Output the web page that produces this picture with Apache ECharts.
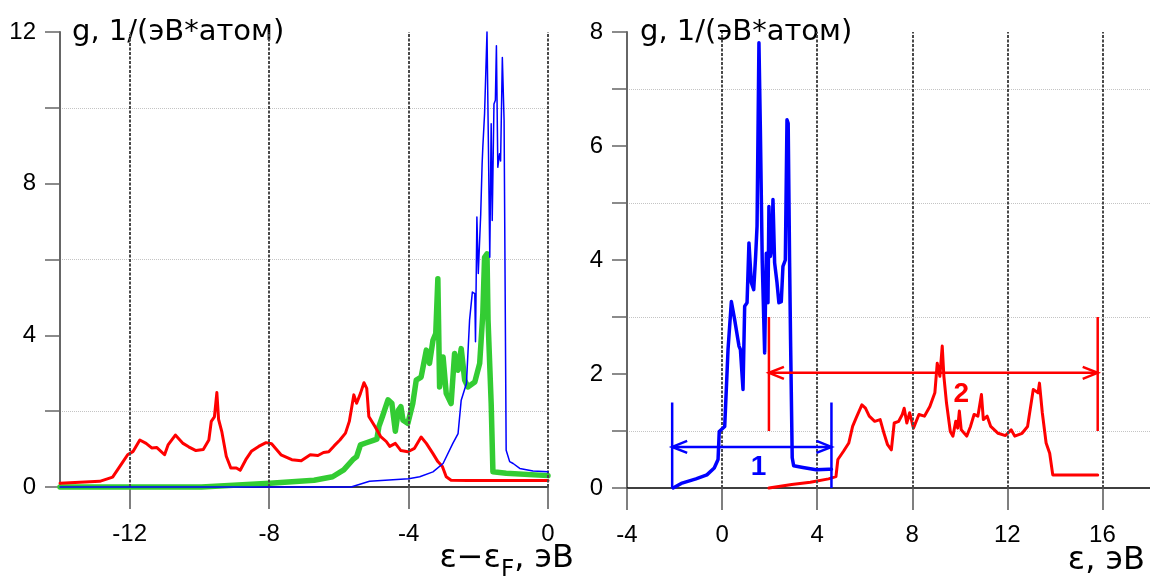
<!DOCTYPE html>
<html>
<head>
<meta charset="utf-8">
<title>Плотность состояний</title>
<script src="https://cdn.jsdelivr.net/npm/echarts@6/dist/echarts.min.js"></script>
<style>
  html, body { margin: 0; padding: 0; background: #fff; }
  #chart { width: 1150px; height: 577px; }
</style>
</head>
<body>
<div id="chart"></div>
<script>
// ---- left panel: partial densities of states, energy relative to the Fermi level ----
const leftRed = [
  [-14, 0.1], [-12.86, 0.15], [-12.49, 0.26], [-12.22, 0.63], [-12.06, 0.85], [-11.9, 0.94],
  [-11.71, 1.24], [-11.53, 1.15], [-11.37, 1.03], [-11.22, 1.04], [-11.0, 0.85], [-10.9, 1.11],
  [-10.69, 1.37], [-10.47, 1.15], [-10.31, 1.06], [-10.1, 0.96], [-9.89, 0.99], [-9.73, 1.24],
  [-9.66, 1.73], [-9.57, 1.85], [-9.5, 2.49], [-9.45, 1.78], [-9.36, 1.47], [-9.23, 0.81],
  [-9.1, 0.5], [-8.94, 0.5], [-8.83, 0.44], [-8.67, 0.72], [-8.51, 0.94], [-8.3, 1.07],
  [-8.09, 1.17], [-7.93, 1.14], [-7.66, 0.85], [-7.35, 0.72], [-7.08, 0.69], [-6.82, 0.85],
  [-6.6, 0.83], [-6.44, 0.91], [-6.29, 0.93], [-6.13, 1.09], [-5.97, 1.24], [-5.81, 1.42],
  [-5.7, 1.73], [-5.57, 2.43], [-5.49, 2.21], [-5.38, 2.47], [-5.28, 2.75], [-5.2, 2.6],
  [-5.14, 1.86], [-4.96, 1.59], [-4.8, 1.33], [-4.64, 1.2], [-4.54, 1.07], [-4.38, 1.15],
  [-4.22, 0.96], [-4.02, 0.93], [-3.83, 1.02], [-3.64, 1.32], [-3.49, 1.15], [-3.3, 0.88],
  [-3.16, 0.67], [-3.03, 0.54], [-2.92, 0.27], [-2.78, 0.18], [-2.3, 0.17], [0, 0.17]
];
const leftGreen = [
  [-14, 0], [-9.94, 0], [-7.98, 0.1], [-6.71, 0.18], [-6.18, 0.27], [-5.86, 0.45], [-5.6, 0.72],
  [-5.49, 0.8], [-5.38, 1.11], [-5.23, 1.16], [-5.01, 1.23], [-4.91, 1.26], [-4.85, 1.6],
  [-4.75, 1.86], [-4.59, 2.3], [-4.48, 2.21], [-4.38, 1.47], [-4.29, 2.03], [-4.22, 2.12],
  [-4.16, 1.76], [-4.02, 1.68], [-3.88, 2.2], [-3.78, 2.82], [-3.64, 2.9], [-3.49, 3.61],
  [-3.4, 3.26], [-3.3, 3.87], [-3.22, 4.05], [-3.16, 5.49], [-3.11, 2.64], [-3.01, 3.43],
  [-2.92, 2.47], [-2.78, 2.2], [-2.68, 3.52], [-2.58, 3.08], [-2.49, 3.65], [-2.39, 2.82],
  [-2.3, 2.64], [-2.1, 2.77], [-1.96, 3.26], [-1.87, 4.57], [-1.82, 6.06], [-1.75, 6.15],
  [-1.72, 4.4], [-1.63, 2.2], [-1.58, 0.4], [-1.2, 0.36], [0, 0.3]
];
const leftBlue = [
  [-14, 0], [-5.65, 0], [-5.12, 0.15], [-4.0, 0.22], [-3.68, 0.27], [-3.3, 0.4], [-3.01, 0.62],
  [-2.73, 1.15], [-2.58, 1.41], [-2.49, 2.29], [-2.34, 2.73], [-2.25, 4.4], [-2.17, 5.14],
  [-2.1, 5.1], [-2.08, 3.83], [-2.04, 7.12], [-2.0, 5.63], [-1.93, 7.2], [-1.89, 8.52],
  [-1.87, 8.96], [-1.82, 9.84], [-1.75, 12.0], [-1.71, 11.95], [-1.67, 6.06], [-1.63, 9.58],
  [-1.6, 7.03], [-1.55, 10.1], [-1.51, 10.2], [-1.48, 11.64], [-1.44, 8.43], [-1.39, 8.79],
  [-1.36, 8.6], [-1.31, 11.33], [-1.26, 9.67], [-1.2, 0.97], [-1.1, 0.67], [-1.0, 0.62],
  [-0.81, 0.49], [-0.43, 0.42], [0, 0.4]
];

// ---- right panel: occupied (blue) and empty (red) bands, absolute energy ----
const rightBlue = [
  [-2.06, 0], [-1.72, 0.08], [-1.1, 0.16], [-0.64, 0.23], [-0.33, 0.35], [-0.17, 0.5],
  [-0.12, 0.99], [0.11, 1.08], [0.25, 2.43], [0.39, 3.27], [0.53, 2.95], [0.71, 2.49],
  [0.77, 2.43], [0.88, 1.73], [0.95, 3.19], [1.05, 3.25], [1.13, 4.3], [1.2, 4.3], [1.23, 3.6],
  [1.33, 3.48], [1.41, 4.06], [1.47, 4.59], [1.55, 7.81], [1.61, 6.29], [1.69, 3.95],
  [1.79, 2.37], [1.86, 4.12], [1.93, 3.25], [1.97, 4.94], [2.03, 4.06], [2.1, 4.24],
  [2.14, 5.06], [2.21, 3.95], [2.31, 3.6], [2.39, 3.25], [2.49, 3.27], [2.56, 3.89],
  [2.66, 4.0], [2.73, 6.46], [2.78, 6.4], [2.84, 3.95], [2.88, 2.6], [2.95, 0.53],
  [3.01, 0.39], [3.4, 0.36], [3.96, 0.32], [4.48, 0.33], [4.6, 0.33]
];
const rightRed = [
  [1.97, 0], [2.93, 0.06], [3.71, 0.1], [4.48, 0.16], [4.79, 0.2], [4.87, 0.5], [5.1, 0.64],
  [5.33, 0.79], [5.49, 1.08], [5.64, 1.23], [5.88, 1.46], [6.03, 1.4], [6.19, 1.26],
  [6.42, 1.17], [6.65, 1.2], [6.81, 0.96], [6.96, 0.76], [7.12, 0.67], [7.24, 1.14],
  [7.43, 1.17], [7.58, 1.29], [7.66, 1.4], [7.77, 1.14], [7.89, 1.32], [8.05, 1.05],
  [8.28, 1.29], [8.51, 1.26], [8.74, 1.43], [8.95, 1.67], [9.05, 2.19], [9.16, 1.96],
  [9.26, 2.49], [9.33, 1.96], [9.44, 1.49], [9.6, 0.99], [9.71, 0.91], [9.83, 1.17],
  [9.91, 1.05], [9.98, 1.35], [10.06, 1.02], [10.29, 0.91], [10.45, 1.08], [10.6, 1.29],
  [10.76, 1.26], [10.91, 1.64], [10.99, 1.2], [11.15, 1.26], [11.3, 1.08], [11.61, 0.96],
  [11.92, 0.92], [12.16, 1.02], [12.31, 0.91], [12.62, 0.96], [12.85, 1.08], [13.09, 1.73],
  [13.29, 1.67], [13.35, 1.84], [13.47, 1.32], [13.63, 0.79], [13.78, 0.61], [13.91, 0.23],
  [15.8, 0.23]
];

// band widths marked with double arrows:
// [start, end, arrow level, bar bottom, bar top, number x, number y]
const bandMarks = [
  [-2.1, 4.6, 0.72, 0, 1.5, 1.53, 0.37],
  [1.97, 15.8, 2.02, 1.0, 3.0, 10.06, 1.65]
];
const bandLabels = ['1', '2'];

// tick positions and grid lines
const leftXTicks = [-12, -8, -4, 0];
const rightXTicks = [-4, 0, 4, 8, 12, 16];
const leftGridX = [-12, -8, -4, 0];
const rightGridX = [0, 4, 8, 12, 16];

const yTitle = 'g, 1/(эВ*атом)';

// ---- styling ----
const RED = '#ff0000', GREEN = '#33cc33', BLUE = '#0000ff';
const bandColors = [BLUE, RED];
const tickFont = 'Liberation Sans';
const textFont = 'DejaVu Sans';

function xAxisCfg(grid, min, max, ticks) {
  return {
    gridIndex: grid, type: 'value', min: min, max: max,
    axisLine: { onZero: false, lineStyle: { color: '#000', width: 1.5 } },
    axisTick: { show: true, customValues: ticks, length: 22, lineStyle: { color: '#555', width: 1.5 } },
    axisLabel: { customValues: ticks, margin: 35, fontSize: 24, fontFamily: tickFont, color: '#000' },
    splitLine: { show: false }
  };
}
function yAxisCfg(grid, max, interval) {
  return {
    gridIndex: grid, type: 'value', min: 0, max: max, interval: interval,
    axisLine: { show: true, onZero: false, lineStyle: { color: '#666', width: 2 } },
    axisTick: { show: true, length: 15, lineStyle: { color: '#666', width: 1.5 } },
    minorTick: { show: true, splitNumber: 2, length: 15, lineStyle: { color: '#666', width: 1.5 } },
    minorSplitLine: { show: true, lineStyle: { color: '#c4c4c4', type: 'dotted', width: 1 } },
    splitLine: { show: false },
    axisLabel: { margin: 24, fontSize: 24, fontFamily: tickFont, color: '#000' }
  };
}
function gridLines(xi, yi, values) {
  return {
    type: 'line', xAxisIndex: xi, yAxisIndex: yi, data: [], z: 1, silent: true,
    markLine: {
      silent: true, symbol: 'none', label: { show: false },
      lineStyle: { color: '#4a4a4a', type: [3, 1.5], width: 2 },
      data: values.map(v => ({ xAxis: v }))
    }
  };
}
function curve(xi, yi, data, color, width, z) {
  return {
    type: 'line', xAxisIndex: xi, yAxisIndex: yi, data: data, z: z,
    showSymbol: false, symbol: 'none', clip: false, silent: true,
    lineStyle: { color: color, width: width, join: 'round', cap: 'round' }
  };
}
function bandStyle(color) {
  return { stroke: color, lineWidth: 2.5, fill: null };
}
function renderBand(params, api) {
  const color = bandColors[params.dataIndex];
  const x1 = api.value(0), x2 = api.value(1), ya = api.value(2), yl = api.value(3), yh = api.value(4);
  const a = api.coord([x1, ya]), b = api.coord([x2, ya]);
  const l1 = api.coord([x1, yl]), h1 = api.coord([x1, yh]);
  const l2 = api.coord([x2, yl]), h2 = api.coord([x2, yh]);
  const lab = api.coord([api.value(5), api.value(6)]);
  const head = 15, half = 6;
  return {
    type: 'group',
    children: [
      { type: 'line', shape: { x1: l1[0], y1: l1[1], x2: h1[0], y2: h1[1] }, style: bandStyle(color) },
      { type: 'line', shape: { x1: l2[0], y1: l2[1], x2: h2[0], y2: h2[1] }, style: bandStyle(color) },
      { type: 'line', shape: { x1: a[0], y1: a[1], x2: b[0], y2: b[1] }, style: bandStyle(color) },
      { type: 'polyline', shape: { points: [[a[0] + head, a[1] - half], [a[0], a[1]], [a[0] + head, a[1] + half]] }, style: bandStyle(color) },
      { type: 'polyline', shape: { points: [[b[0] - head, b[1] - half], [b[0], b[1]], [b[0] - head, b[1] + half]] }, style: bandStyle(color) },
      { type: 'text', x: lab[0], y: lab[1],
        style: { text: bandLabels[params.dataIndex], fill: color, font: 'bold 28px "Liberation Sans"', align: 'center', verticalAlign: 'middle' } }
    ]
  };
}

const chart = echarts.init(document.getElementById('chart'), null, { renderer: 'canvas' });
chart.setOption({
  animation: false,
  backgroundColor: '#fff',
  grid: [
    { left: 60, top: 32, width: 488, height: 455 },
    { left: 627, top: 32, width: 524, height: 456 }
  ],
  xAxis: [xAxisCfg(0, -14, 0, leftXTicks), xAxisCfg(1, -4, 18, rightXTicks)],
  yAxis: [yAxisCfg(0, 12, 4), yAxisCfg(1, 8, 2)],
  series: [
    gridLines(0, 0, leftGridX),
    gridLines(1, 1, rightGridX),
    curve(0, 0, leftGreen, GREEN, 5.5, 3),
    curve(0, 0, leftRed, RED, 3, 4),
    curve(0, 0, leftBlue, BLUE, 1.5, 5),
    curve(1, 1, rightRed, RED, 3, 4),
    curve(1, 1, rightBlue, BLUE, 3.5, 5),
    {
      type: 'custom', xAxisIndex: 1, yAxisIndex: 1, z: 6, silent: true,
      renderItem: renderBand,
      encode: { x: [0, 1, 5], y: [2, 3, 4, 6] },
      data: bandMarks
    }
  ],
  graphic: [
    { type: 'text', x: 72, y: 32, silent: true,
      style: { text: yTitle, font: '29px "' + textFont + '"', fill: '#000', align: 'left', verticalAlign: 'middle' } },
    { type: 'text', x: 640, y: 32, silent: true,
      style: { text: yTitle, font: '29px "' + textFont + '"', fill: '#000', align: 'left', verticalAlign: 'middle' } },
    { type: 'text', x: 574, y: 559, silent: true,
      style: {
        text: '{m|ε−ε}{s|F}{m|, эВ}', align: 'right', verticalAlign: 'middle', fill: '#000',
        rich: {
          m: { fontSize: 32, fontFamily: textFont, lineHeight: 34, fill: '#000' },
          s: { fontSize: 23, fontFamily: textFont, lineHeight: 22, padding: [22, 0, 0, 0], fill: '#000' }
        }
      } },
    { type: 'text', x: 1145, y: 561, silent: true,
      style: { text: 'ε, эВ', font: '32px "' + textFont + '"', fill: '#000', align: 'right', verticalAlign: 'middle' } }
  ]
});
</script>
</body>
</html>
